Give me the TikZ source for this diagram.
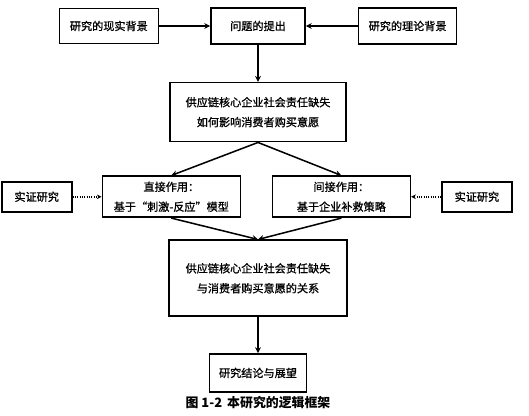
\documentclass[tikz,border=0pt]{standalone}
\usepackage{fontspec}
\newfontfamily\cjk{Noto Sans CJK SC}
\newfontfamily\cjkheavy[FakeBold=1]{Noto Sans CJK SC}
\usepackage{tikz}
\usetikzlibrary{arrows.meta,positioning}

\begin{document}
\begin{tikzpicture}[
    node distance=1.0cm and 1.5cm,
    box/.style={draw=black, line width=1.4pt, rectangle, align=center, inner sep=2pt, font=\cjkheavy\fontsize{9.5}{17}\selectfont},
    side/.style={box, minimum width=2.1cm, minimum height=0.9cm},
    arrow/.style={-{Stealth[length=5pt,width=5pt]}, line width=1.3pt},
    dotarrow/.style={-{Stealth[length=4pt,width=4pt]}, line width=1.3pt, dash pattern=on 1pt off 1pt}
]
  \useasboundingbox (0,0) rectangle (15.87,-12.48);
  % Nodes
  \node (question) [box, minimum width=2.82cm, minimum height=1.08cm] at (7.74,-0.78) {问题的提出};
  \node (practice) [box, minimum width=2.97cm, minimum height=1.05cm, left=1.53cm of question] {研究的现实背景};
  \node (theory) [box, minimum width=2.94cm, minimum height=1.08cm, right=1.56cm of question] {研究的理论背景};

  \node (core) [box, minimum width=5.28cm, minimum height=1.77cm, below=1.11cm of question] {供应链核心企业社会责任缺失\\如何影响消费者购买意愿};

  \node (direct) [box, minimum width=4.14cm, minimum height=1.23cm, below=0.99cm of core, xshift=-2.6cm] {直接作用：\\基于“刺激-反应”模型};
  \node (indirect) [box, minimum width=4.14cm, minimum height=1.23cm, below=0.99cm of core, xshift=2.5cm] {间接作用：\\基于企业补救策略};

  \node (empleft) [side, left=0.87cm of direct] {实证研究};
  \node (empright) [side, right=0.9cm of indirect] {实证研究};

  \node (relation) [box, minimum width=5.34cm, minimum height=2.28cm, below=2.91cm of core] {供应链核心企业社会责任缺失\\与消费者购买意愿的关系};
  \node (outlook) [box, minimum width=2.91cm, minimum height=1.14cm, below=1.08cm of relation] {研究结论与展望};

  \node (caption) [font=\cjk\bfseries\fontsize{11}{13}\selectfont] at (7.74,-12.09) {图 1-2\, 本研究的逻辑框架};

  % Arrows
  \draw [arrow] (practice) -- (question);
  \draw [arrow] (theory) -- (question);
  \draw [arrow] (question) -- (core);
  \draw [arrow] (core.south) -- (direct.north);
  \draw [arrow] (core.south) -- (indirect.north);
  \draw [dotarrow] (empleft) -- (direct);
  \draw [dotarrow] (empright) -- (indirect);
  \draw [arrow] (direct.south) -- (relation.north);
  \draw [arrow] (indirect.south) -- (relation.north);
  \draw [arrow] (relation) -- (outlook);

\end{tikzpicture}
\end{document}
